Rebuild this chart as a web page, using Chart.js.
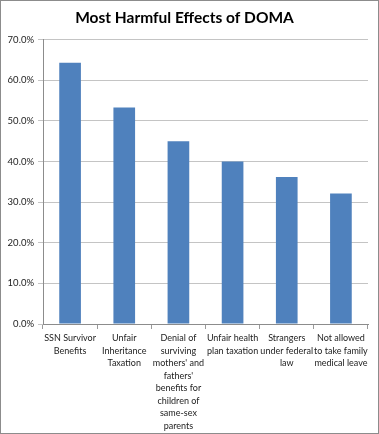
<!DOCTYPE html>
<html>
<head>
<meta charset="utf-8">
<script src="https://cdn.jsdelivr.net/npm/chart.js@4"></script>
<style>
  body { margin: 0; background: #fff; }
  #wrap { width: 377px; height: 432px; border: 1px solid #8c8c8c; position: relative; }
</style>
</head>
<body>
<div id="wrap"><canvas id="chart" width="377" height="432"></canvas></div>
<script>
// Datos del gráfico
const categories = [
  ['SSN Survivor', 'Benefits'],
  ['Unfair', 'Inheritance', 'Taxation'],
  ['Denial of', 'surviving', "mothers' and", "fathers'", 'benefits for', 'children of', 'same-sex', 'parents'],
  ['Unfair health', 'plan taxation'],
  ['Strangers', 'under federal', 'law'],
  ['Not allowed', 'to take family', 'medical leave']
];
const values = [64.3, 53.3, 45.0, 40.0, 36.2, 32.1];
const titleText = 'Most Harmful Effects of DOMA';

const ctx = document.getElementById('chart').getContext('2d');

new Chart(ctx, {
    type: 'bar',
    data: {
        labels: categories,
        datasets: [{
            data: values,
            backgroundColor: '#4f81bd',
            barPercentage: 0.4,
            categoryPercentage: 1.0
        }]
    },
    options: {
        responsive: false,
        animation: false,
        layout: { padding: { left: 0, right: 10, top: 0, bottom: 0 } },
        plugins: {
            legend: { display: false },
            tooltip: { enabled: false },
            title: {
                display: true,
                text: titleText,
                color: '#000',
                font: { family: 'Lato', size: 15.5, weight: 'bold' },
                padding: { top: 8, bottom: 12 }
            }
        },
        scales: {
            x: {
                grid: { offset: true, drawOnChartArea: false, drawTicks: true, tickLength: 5, color: '#9a9a9a' },
                border: { color: '#8c8c8c' },
                ticks: {
                    color: '#222',
                    font: { family: 'Lato', size: 9, lineHeight: 1.39 },
                    maxRotation: 0,
                    autoSkip: false,
                    padding: 3
                },
                afterFit: s => { s.height = 109; }
            },
            y: {
                min: 0,
                max: 70,
                ticks: {
                    stepSize: 10,
                    color: '#222',
                    font: { family: 'Lato', size: 9.5 },
                    padding: 4,
                    callback: v => v.toFixed(1) + '%'
                },
                grid: { color: '#c4c4c4', tickLength: 5 },
                border: { color: '#8c8c8c' },
                afterFit: s => { s.width = 42; }
            }
        }
    }
});
</script>
</body>
</html>
